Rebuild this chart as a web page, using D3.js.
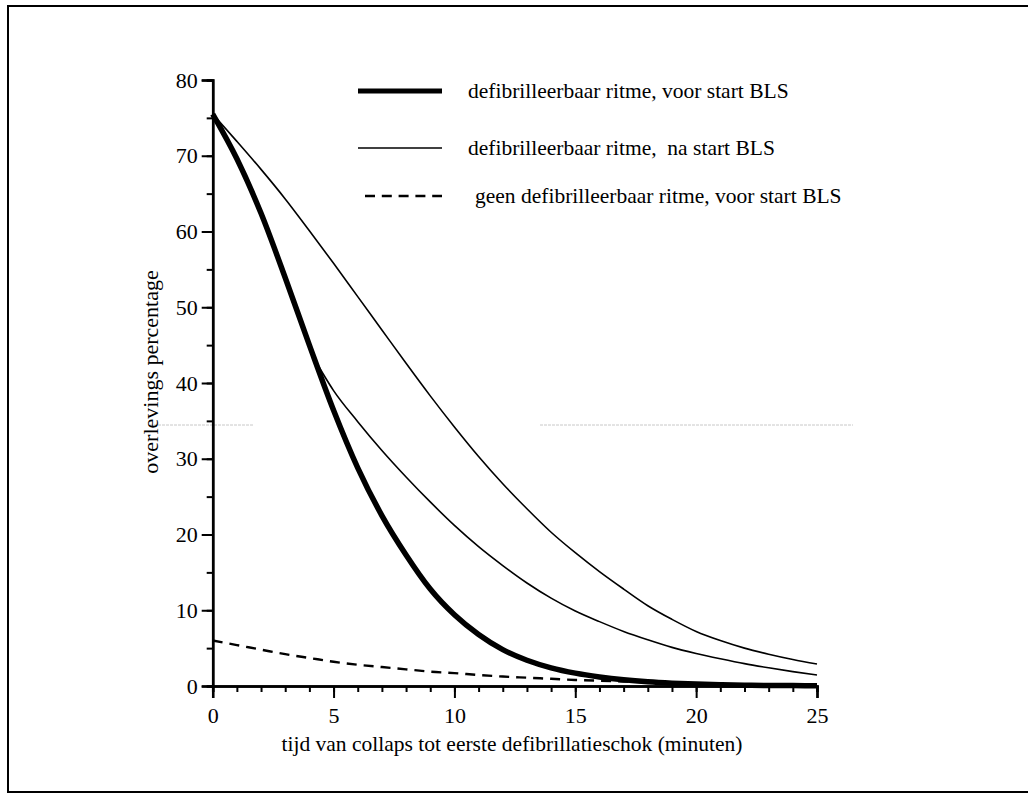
<!DOCTYPE html>
<html>
<head>
<meta charset="utf-8">
<script src="https://cdn.jsdelivr.net/npm/d3@7"></script>
<style>
  body { margin: 0; background: #fff; }
  svg { display: block; }
  text { font-family: "Liberation Serif", "Times New Roman", serif; fill: #000; }
</style>
</head>
<body>
<div id="chart"></div>
<script>
// overlevingspercentage per minuut tot defibrillatie
const minuten = d3.range(0, 26);
const voorBLS = [75.5, 69.6, 62.4, 53.9, 45.0, 36.4, 28.8, 22.5, 17.3, 12.8, 9.4, 6.8, 4.8,
  3.4, 2.4, 1.7, 1.2, 0.82, 0.55, 0.37, 0.25, 0.16, 0.1, 0.07, 0.05, 0.03];
const naBLSvanaf0 = [75.5, 71.9, 68.2, 64.3, 60.1, 55.8, 51.4, 47.0, 42.6, 38.3, 34.2, 30.3, 26.7,
  23.4, 20.3, 17.6, 15.1, 12.8, 10.6, 8.8, 7.2, 6.0, 5.0, 4.2, 3.5, 2.9];
// tak die bij ~4,2 min van de dikke lijn afbuigt
const naBLSminuten = [4.2, 5, 6, 7, 8, 9, 10, 11, 12, 13, 14, 15, 16, 17, 18, 19, 20, 21, 22, 23, 24, 25];
const naBLStak = [43.2, 39.0, 34.9, 31.1, 27.6, 24.3, 21.2, 18.4, 15.9, 13.6, 11.6, 9.9, 8.5,
  7.2, 6.1, 5.1, 4.3, 3.6, 2.95, 2.4, 1.9, 1.45];
const geenDefibMinuten = d3.range(0, 21);
const geenDefib = [6.0, 5.4, 4.8, 4.2, 3.7, 3.2, 2.8, 2.5, 2.2, 1.9, 1.7, 1.45, 1.25, 1.1, 0.95,
  0.8, 0.7, 0.6, 0.5, 0.4, 0.35];

const xMajor = [0, 5, 10, 15, 20, 25];
const yMajor = [0, 10, 20, 30, 40, 50, 60, 70, 80];
const legendLabels = [
  "defibrilleerbaar ritme, voor start BLS",
  "defibrilleerbaar ritme,  na start BLS",
  "geen defibrilleerbaar ritme, voor start BLS"
];

const W = 1028, H = 800;
const svg = d3.select("#chart").append("svg")
  .attr("width", W)
  .attr("height", H);

// kader
svg.append("rect")
  .attr("x", 8).attr("y", 6)
  .attr("width", 1040).attr("height", 786)
  .attr("fill", "none").attr("stroke", "#000").attr("stroke-width", 2);

// scan-artefact (lichte horizontale lijn)
svg.append("g").selectAll("line")
  .data([[150, 253], [540, 853]])
  .enter().append("line")
  .attr("x1", d => d[0]).attr("x2", d => d[1])
  .attr("y1", 425).attr("y2", 425)
  .attr("stroke", "#c8c8c8").attr("stroke-width", 1)
  .attr("stroke-dasharray", "3,1");

const x = d3.scaleLinear().domain([0, 25]).range([212.7, 817]);
const y = d3.scaleLinear().domain([0, 80]).range([686, 80]);

// x-as
const gx = svg.append("g").attr("transform", "translate(0,686)");
gx.call(d3.axisBottom(x).tickValues(d3.range(0, 26)).tickSize(6).tickFormat(""));
gx.append("g").call(d3.axisBottom(x).tickValues(xMajor).tickSize(12).tickPadding(9)
  .tickFormat(d3.format("d")));
gx.selectAll("path.domain").attr("stroke", "#000").attr("stroke-width", 2.5);
gx.selectAll(".tick line").attr("stroke", "#000").attr("stroke-width", 2);
gx.selectAll(".tick text").attr("font-size", 22).attr("font-family", null);

// y-as
const gy = svg.append("g").attr("transform", "translate(212.7,0)");
gy.call(d3.axisLeft(y).tickValues(d3.range(0, 81, 5)).tickSize(6).tickFormat(""));
gy.append("g").call(d3.axisLeft(y).tickValues(yMajor).tickSize(11).tickPadding(4)
  .tickFormat(d3.format("d")));
gy.selectAll("path.domain").attr("stroke", "#000").attr("stroke-width", 2.5);
gy.selectAll(".tick line").attr("stroke", "#000").attr("stroke-width", 2);
gy.selectAll(".tick text").attr("font-size", 22).attr("font-family", null);

// aslabels
svg.append("text")
  .attr("x", 512).attr("y", 751)
  .attr("text-anchor", "middle")
  .attr("font-size", 21.5)
  .text("tijd van collaps tot eerste defibrillatieschok (minuten)");

svg.append("text")
  .attr("transform", "translate(158,372) rotate(-90)")
  .attr("text-anchor", "middle")
  .attr("font-size", 22)
  .text("overlevings percentage");

// lijnen
const line = d3.line()
  .x(d => x(d[0]))
  .y(d => y(d[1]))
  .curve(d3.curveMonotoneX);

const series = [
  {t: minuten, v: naBLSvanaf0, w: 1.6, dash: null},
  {t: naBLSminuten, v: naBLStak, w: 1.6, dash: null},
  {t: geenDefibMinuten, v: geenDefib, w: 2.4, dash: "10,7"},
  {t: minuten, v: voorBLS, w: 5.5, dash: null}
];

svg.append("g").selectAll("path")
  .data(series)
  .enter().append("path")
  .attr("d", d => line(d.t.map((t, i) => [t, d.v[i]])))
  .attr("fill", "none")
  .attr("stroke", "#000")
  .attr("stroke-width", d => d.w)
  .attr("stroke-linejoin", "round")
  .attr("stroke-dasharray", d => d.dash);

// legenda
const legend = [
  {y: 91, x1: 358, w: 5, dash: null, tx: 468},
  {y: 148, x1: 358, w: 1.6, dash: null, tx: 468},
  {y: 196, x1: 365, w: 2.6, dash: "10,6.8", tx: 475}
];
const lg = svg.append("g");
lg.selectAll("line")
  .data(legend)
  .enter().append("line")
  .attr("x1", d => d.x1).attr("x2", 442)
  .attr("y1", d => d.y).attr("y2", d => d.y)
  .attr("stroke", "#000")
  .attr("stroke-width", d => d.w)
  .attr("stroke-dasharray", d => d.dash);
lg.selectAll("text")
  .data(legend)
  .enter().append("text")
  .attr("x", d => d.tx)
  .attr("y", d => d.y + 6.5)
  .attr("font-size", 21.5)
  .style("white-space", "pre")
  .text((d, i) => legendLabels[i]);
</script>
</body>
</html>
